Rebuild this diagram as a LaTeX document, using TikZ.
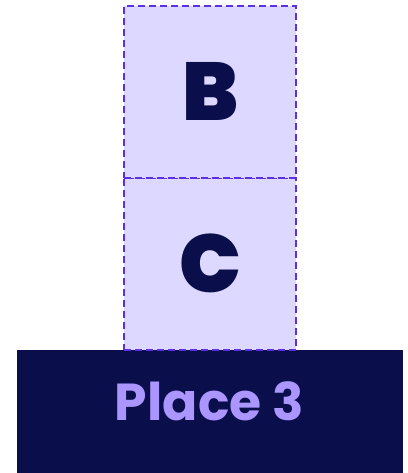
\documentclass[tikz,border=0pt]{standalone}
\usepackage{fontspec}
\setmainfont{Poppins}[BoldFont={* Bold}]
\newfontfamily\heavyfont{Poppins}[UprightFont={* Black}]
\definecolor{lightfill}{HTML}{DDD8FF}
\definecolor{dashcol}{HTML}{5B30E0}
\definecolor{darkbg}{HTML}{0A0E4A}
\definecolor{labelcol}{HTML}{AB96FF}
\tikzset{
  blockbox/.style={fill=lightfill, draw=dashcol, line width=1.7pt, dash pattern=on 7pt off 4pt, minimum width=172pt, minimum height=172pt, inner sep=0pt, outer sep=0pt},
  placebox/.style={fill=darkbg, draw=none, minimum width=386pt, minimum height=124pt, inner sep=0pt, outer sep=0pt},
  blocklabel/.style={text=darkbg, font=\heavyfont\fontsize{82}{82}\selectfont, anchor=base, inner sep=0pt},
  placelabelstyle/.style={text=labelcol, font=\bfseries\fontsize{52}{52}\selectfont, anchor=base, inner sep=0pt}
}
\begin{document}
\begin{tikzpicture}[x=1pt,y=-1pt]
\useasboundingbox (0,0) rectangle (407,473);
\node[placebox] (place) at (210,411.5) {};
\node[placelabelstyle] (placelabel) at (209.5,420) {Place 3};
\node[blockbox] (c) at (210,264) {};
\node[blockbox] (b) at (210,92) {};
\node[blocklabel] (blabel) at (210.5,121) {B};
\node[blocklabel] (clabel) at (210.5,292) {C};
\end{tikzpicture}
\end{document}
